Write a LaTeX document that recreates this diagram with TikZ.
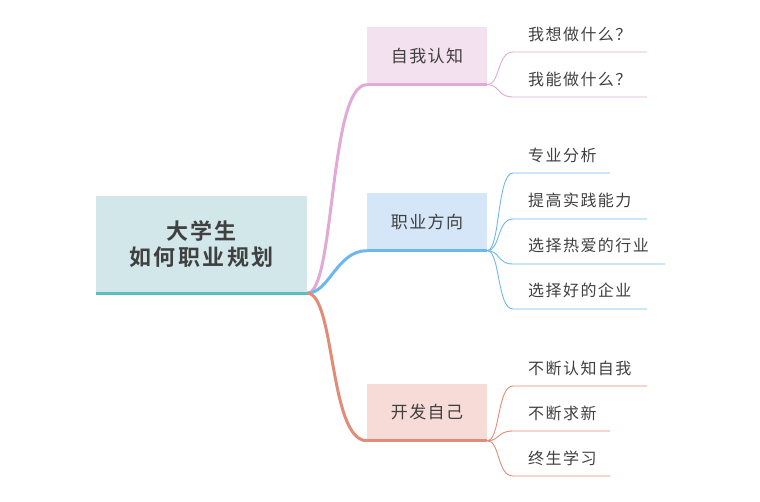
\documentclass[tikz,border=0pt]{standalone}
\usepackage{fontspec}
\newfontfamily\cjkchild[LetterSpace=9]{Noto Sans CJK SC}
\newfontfamily\cjkbranch[LetterSpace=8]{Noto Sans CJK SC}
\newfontfamily\cjkroot[LetterSpace=11]{Noto Sans CJK SC Bold}
\definecolor{txt}{HTML}{404040}
\definecolor{rootfill}{HTML}{D1E7E9}
\definecolor{rootline}{HTML}{5CBFBF}
\definecolor{pinkfill}{HTML}{F4E1F0}
\definecolor{pinkline}{HTML}{E1A9D5}
\definecolor{bluefill}{HTML}{D4E6F7}
\definecolor{blueline}{HTML}{6CB8EE}
\definecolor{orfill}{HTML}{F6DBD6}
\definecolor{orline}{HTML}{E28B76}
\tikzset{
  rootbox/.style={fill=rootfill, draw=none, minimum width=211pt, minimum height=97pt, inner sep=0pt,
    align=center, text=txt, font=\cjkroot\fontsize{22}{26}\selectfont},
  branchbox/.style={draw=none, minimum width=120pt, minimum height=57pt, inner sep=0pt,
    text=txt, font=\cjkbranch\fontsize{17}{20}\selectfont},
  childtext/.style={anchor=west, inner sep=0pt, text=txt, font=\cjkchild\fontsize{16}{19}\selectfont},
  mainlink/.style={line width=3pt, line cap=butt},
  underl/.style={line width=3pt},
  childlink/.style={line width=0.9pt}
}
\begin{document}
\begin{tikzpicture}[x=1pt,y=-1pt]
\useasboundingbox (0,0) rectangle (760,502);
% root
\node[rootbox] (root) at (201.5,244.5) {大学生\\如何职业规划};
\draw[underl, rootline] (root.south west) -- (root.south east);
% branches
\node[branchbox, fill=pinkfill] (b1) at (427,56) {自我认知};
\node[branchbox, fill=bluefill] (b2) at (427,222) {职业方向};
\node[branchbox, fill=orfill] (b3) at (427,412) {开发自己};
% main links
\draw[mainlink, pinkline] (root.south east) .. controls +(28,0) and +(-38,0) .. (b1.south west);
\draw[mainlink, blueline] (root.south east) .. controls +(22,0) and +(-30,0) .. (b2.south west);
\draw[mainlink, orline] (root.south east) .. controls +(28,0) and +(-38,0) .. (b3.south west);
\draw[underl, pinkline] (b1.south west) -- (b1.south east);
\draw[underl, blueline] (b2.south west) -- (b2.south east);
\draw[underl, orline] (b3.south west) -- (b3.south east);
% children of b1
\node[childtext] (c11) at (528,34) {我想做什么？};
\node[childtext] (c12) at (528,79) {我能做什么？};
\coordinate (c11s) at (513,52); \coordinate (c11e) at (647,52);
\coordinate (c12s) at (513,97); \coordinate (c12e) at (647,97);
\draw[childlink, pinkline] (b1.south east) .. controls +(13,0) and +(-16,0) .. (c11s) -- (c11e);
\draw[childlink, pinkline] (b1.south east) .. controls +(13,0) and +(-16,0) .. (c12s) -- (c12e);
% children of b2
\node[childtext] (c21) at (528,155) {专业分析};
\node[childtext] (c22) at (528,200) {提高实践能力};
\node[childtext] (c23) at (528,245) {选择热爱的行业};
\node[childtext] (c24) at (528,290) {选择好的企业};
\coordinate (c21s) at (513,173); \coordinate (c21e) at (610,173);
\coordinate (c22s) at (513,219); \coordinate (c22e) at (647,219);
\coordinate (c23s) at (513,264); \coordinate (c23e) at (665,264);
\coordinate (c24s) at (513,309); \coordinate (c24e) at (647,309);
\draw[childlink, blueline] (b2.south east) .. controls +(13,0) and +(-16,0) .. (c21s) -- (c21e);
\draw[childlink, blueline] (b2.south east) .. controls +(13,0) and +(-16,0) .. (c22s) -- (c22e);
\draw[childlink, blueline] (b2.south east) .. controls +(13,0) and +(-16,0) .. (c23s) -- (c23e);
\draw[childlink, blueline] (b2.south east) .. controls +(13,0) and +(-16,0) .. (c24s) -- (c24e);
% children of b3
\node[childtext] (c31) at (528,368) {不断认知自我};
\node[childtext] (c32) at (528,413) {不断求新};
\node[childtext] (c33) at (528,458) {终生学习};
\coordinate (c31s) at (513,386); \coordinate (c31e) at (647,386);
\coordinate (c32s) at (513,431); \coordinate (c32e) at (610,431);
\coordinate (c33s) at (513,476); \coordinate (c33e) at (610,476);
\draw[childlink, orline] (b3.south east) .. controls +(13,0) and +(-16,0) .. (c31s) -- (c31e);
\draw[childlink, orline] (b3.south east) .. controls +(13,0) and +(-16,0) .. (c32s) -- (c32e);
\draw[childlink, orline] (b3.south east) .. controls +(13,0) and +(-16,0) .. (c33s) -- (c33e);
\end{tikzpicture}
\end{document}
